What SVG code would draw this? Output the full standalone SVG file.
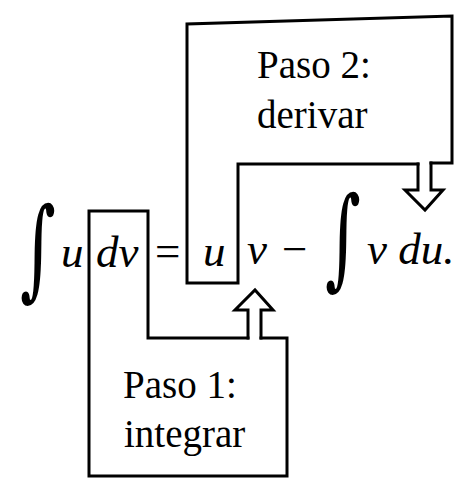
<svg xmlns="http://www.w3.org/2000/svg" width="455" height="478" viewBox="0 0 455 478">
<style>
.box{fill:none;stroke:#000;stroke-width:3;stroke-linejoin:miter;stroke-linecap:square}
.lbl{font-family:"Liberation Serif","Times New Roman",serif;font-size:39px;fill:#000}
.eq{font-family:"Liberation Serif","Times New Roman",serif;font-style:italic;font-size:45px;fill:#000}
.int{font-family:"DejaVu Serif",serif;font-size:86px;fill:#000}
</style>
<rect width="455" height="478" fill="#fff"/>
<g id="equation">
<text class="int" transform="translate(20,286) scale(0.8,1.28)">∫</text>
<text class="eq" x="61" y="267">u</text>
<text class="eq" x="96" y="267">dv</text>
<text class="eq" x="155" y="266" style="font-style:normal">=</text>
<text class="eq" x="203" y="266">u</text>
<text class="eq" x="247" y="264">v</text>
<text class="eq" x="282" y="264" style="font-style:normal">−</text>
<text class="int" transform="translate(325,275) scale(0.8,1.28)">∫</text>
<text class="eq" x="367" y="264">v du.</text>
</g>
<g id="paso2">
<path class="box" d="M431,163 L452,163 L452,16 L187,24 L187,283 L238,283 L238,164 L418,164"/>
<text class="lbl" x="257" y="78">Paso 2:</text>
<text class="lbl" x="257" y="128">derivar</text>
</g>
<g id="paso1">
<path class="box" d="M248,338 L148,338 L148,211 L89,211 L89,476 L287,476 L287,338 L261,338"/>
<text class="lbl" x="123" y="398">Paso 1:</text>
<text class="lbl" x="124" y="447">integrar</text>
</g>
<g id="connectors">
<path class="box" d="M418,164 L418,190 L405,190 L425,210 L443,190 L431,190 L431,163"/>
<path class="box" d="M261,338 L261,310 L273,310 L255,290 L235,310 L248,310 L248,338"/>
</g>
</svg>
